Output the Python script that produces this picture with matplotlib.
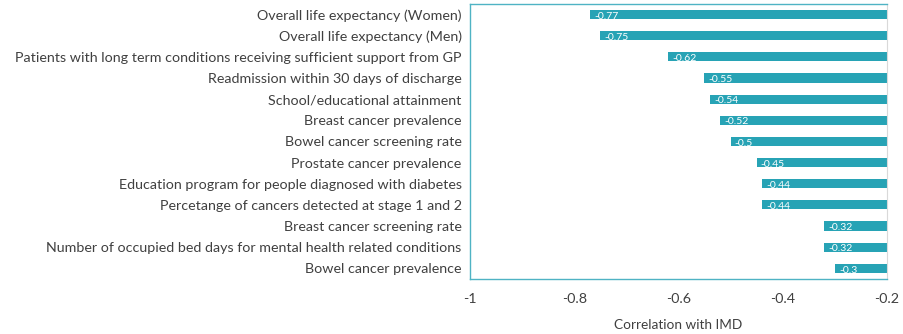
import matplotlib.pyplot as plt
import numpy as np

# Indicators and their correlation with IMD (top to bottom)
indicators = [
    'Overall life expectancy (Women)',
    'Overall life expectancy (Men)',
    'Patients with long term conditions receiving sufficient support from GP',
    'Readmission within 30 days of discharge',
    'School/educational attainment',
    'Breast cancer prevalence',
    'Bowel cancer screening rate',
    'Prostate cancer prevalence',
    'Education program for people diagnosed with diabetes',
    'Percetange of cancers detected at stage 1 and 2',
    'Breast cancer screening rate',
    'Number of occupied bed days for mental health related conditions',
    'Bowel cancer prevalence',
]
correlations = [-0.77, -0.75, -0.62, -0.55, -0.54, -0.52, -0.5, -0.45, -0.44, -0.44, -0.32, -0.32, -0.3]
xticks = [-1, -0.8, -0.6, -0.4, -0.2]

plt.rcParams['font.family'] = ['Lato', 'DejaVu Sans']

bar_color = '#27A3B5'
text_color = '#404040'

fig = plt.figure(figsize=(9.04, 3.34), dpi=100)
ax = fig.add_axes([0.52, 0.165, 0.461, 0.823])

y = np.arange(len(indicators))
ax.barh(y, correlations, height=0.43, color=bar_color)

for yi, val in zip(y, correlations):
    ax.text(val + 0.008, yi + 0.08, f'{val:g}', color='white', fontsize=7.5,
            va='center', ha='left')

ax.set_xlim(-1, -0.2)
ax.set_ylim(len(indicators) - 0.5, -0.5)
ax.set_yticks(y)
ax.set_yticklabels(indicators, fontsize=10.3, color=text_color)
ax.set_xticks(xticks)
ax.set_xticklabels([f'{t:g}' for t in xticks], fontsize=10.3, color=text_color)
ax.tick_params(axis='both', length=0, pad=6)
ax.tick_params(axis='x', pad=10)
ax.set_xlabel('Correlation with IMD', fontsize=9.8, color=text_color, labelpad=10)

for side in ['top', 'left', 'bottom']:
    ax.spines[side].set_color('#4FB3C4')
    ax.spines[side].set_linewidth(1.0)
ax.spines['right'].set_color('#D9D9D9')
ax.spines['right'].set_linewidth(0.8)

fig.savefig('out.png', dpi=100)
